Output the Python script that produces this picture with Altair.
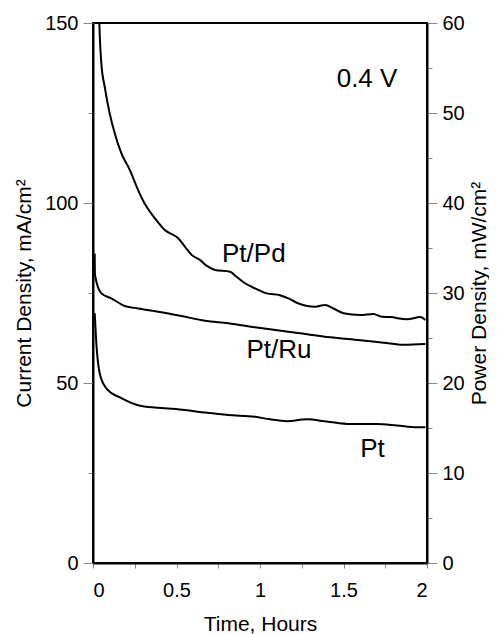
import altair as alt
import pandas as pd

# ---- data (time in hours, current density in mA/cm²) ----
ptpd_t = [0.033, 0.038, 0.05, 0.07, 0.10, 0.13, 0.17, 0.22, 0.27, 0.32, 0.37, 0.43,
          0.51, 0.55, 0.59, 0.64, 0.68, 0.73, 0.82, 0.86, 0.91, 0.97, 1.04, 1.12,
          1.17, 1.22, 1.33, 1.39, 1.44, 1.50, 1.60, 1.68, 1.73, 1.78, 1.88, 1.96, 1.99]
ptpd_i = [160, 150, 138.8, 132.3, 124.9, 119.4, 113.8, 109.2, 103.6, 99.0, 95.8, 92.5,
          90.2, 87.9, 85.6, 84.2, 82.6, 81.4, 80.9, 79.5, 77.7, 76.3, 74.9, 74.4,
          73.5, 72.3, 71.2, 71.7, 70.7, 69.4, 68.9, 69.2, 68.4, 68.3, 67.7, 68.3, 67.5]

ptru_t = [0.01, 0.012, 0.05, 0.11, 0.19, 0.27, 0.39, 0.53, 0.67, 0.81, 0.97, 1.06,
          1.24, 1.42, 1.60, 1.74, 1.86, 1.99]
ptru_i = [86.0, 80.0, 74.9, 73.5, 71.4, 70.7, 69.8, 68.6, 67.3, 66.6, 65.5, 64.9,
          63.8, 62.7, 61.9, 61.2, 60.6, 60.8]

pt_t = [0.01, 0.02, 0.04, 0.08, 0.17, 0.29, 0.43, 0.55, 0.67, 0.81, 0.97, 1.06,
        1.16, 1.28, 1.40, 1.54, 1.70, 1.82, 1.94, 1.99]
pt_i = [69.4, 61.0, 52.7, 48.5, 45.8, 43.6, 43.0, 42.5, 41.8, 41.1, 40.6, 39.9,
        39.4, 39.9, 39.3, 38.6, 38.6, 38.2, 37.7, 37.7]

label_text = ["Pt/Pd", "Pt/Ru", "Pt", "0.4 V"]
label_t = [0.963, 1.114, 1.674, 1.641]
label_i = [83.7, 56.9, 29.5, 132.3]

x_ticks = [0, 0.25, 0.5, 0.75, 1, 1.25, 1.5, 1.75, 2]
left_ticks = [0, 25, 50, 75, 100, 125, 150]
right_ticks = [0, 5, 10, 15, 20, 25, 30, 35, 40, 45, 50, 55, 60]

rows = []
for name, ts, vs in [("Pt/Pd", ptpd_t, ptpd_i), ("Pt/Ru", ptru_t, ptru_i), ("Pt", pt_t, pt_i)]:
    for t, v in zip(ts, vs):
        rows.append({"series": name, "t": t, "i": v})
df = pd.DataFrame(rows)
lab_df = pd.DataFrame({"label": label_text, "t": label_t, "i": label_i})

FONT = "Liberation Sans"

x_enc = alt.X(
    "t:Q",
    scale=alt.Scale(domain=[0, 2], nice=False, zero=False),
    axis=alt.Axis(
        values=x_ticks, format="~g",
        labelExpr="datum.value % 0.5 === 0 ? datum.label : ''",
        tickSize=5, labelPadding=12,
        title="Time, Hours", titleY=67, titleBaseline="alphabetic",
    ),
)

lines = alt.Chart(df).mark_line(
    color="black", strokeWidth=2, clip=True, interpolate="monotone"
).encode(
    x=x_enc,
    y=alt.Y(
        "i:Q",
        scale=alt.Scale(domain=[0, 150], nice=False),
        axis=alt.Axis(
            values=left_ticks,
            labelExpr="datum.value % 50 === 0 ? datum.label : ''",
            tickSize={"condition": {"test": "datum.value % 50 === 0", "value": 10}, "value": 5},
            labelPadding=5,
            title="Current Density, mA/cm²",
            titleAngle=270, titleX=-63, titleY=270,
            titleBaseline="alphabetic", titleAlign="center",
        ),
    ),
    detail="series:N",
    order="t:Q",
)

labels = alt.Chart(lab_df).mark_text(
    font=FONT, fontSize=26, color="black", align="center", baseline="alphabetic"
).encode(
    x=alt.X("t:Q"),
    y=alt.Y("i:Q"),
    text="label:N",
)

power = alt.Chart(df).transform_calculate(p="datum.i * 0.4").mark_line(opacity=0).encode(
    x=alt.X("t:Q"),
    y=alt.Y(
        "p:Q",
        scale=alt.Scale(domain=[0, 60], nice=False),
        axis=alt.Axis(
            orient="right",
            values=right_ticks,
            labelExpr="datum.value % 10 === 0 ? datum.label : ''",
            tickSize={"condition": {"test": "datum.value % 10 === 0", "value": 10}, "value": 5},
            labelPadding=5,
            title="Power Density, mW/cm²",
            titleAngle=270, titleX=58, titleY=270,
            titleBaseline="alphabetic", titleAlign="center",
        ),
    ),
    detail="series:N",
)

chart = alt.layer(alt.layer(lines, labels), power).resolve_scale(y="independent").properties(
    width=334,
    height=540,
    autosize=alt.AutoSizeParams(type="none"),
    padding={"left": 85, "top": 15, "right": 62, "bottom": 72},
).configure_view(
    stroke="black", strokeWidth=2
).configure_axis(
    grid=False,
    domainColor="black", domainWidth=2,
    tickColor="#888888", tickWidth=1,
    labelFont=FONT, labelFontSize=20, labelColor="black",
    titleFont=FONT, titleFontSize=21, titleFontWeight="normal", titleColor="black",
)

chart.save("out.html", embed_options={"renderer": "svg", "actions": False})
